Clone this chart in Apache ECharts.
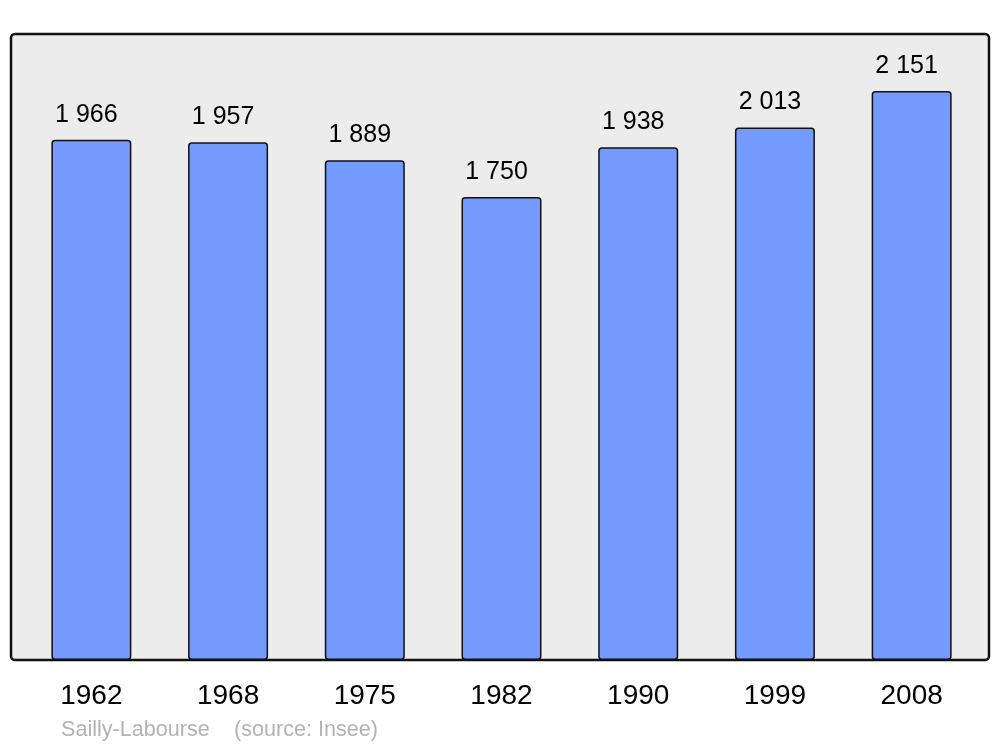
<!DOCTYPE html>
<html><head><meta charset="utf-8">
<script src="https://cdn.jsdelivr.net/npm/echarts@6/dist/echarts.min.js"></script>
<style>html,body{margin:0;padding:0;background:#fff}#c{width:1000px;height:747px}</style>
</head><body><div id="c"></div>
<script>
const years = ['1962','1968','1975','1982','1990','1999','2008'];
const population = [1966,1957,1889,1750,1938,2013,2151];
const captionPlace = 'Sailly-Labourse';
const captionSource = '(source: Insee)';

const fmt = v => String(v).replace(/\B(?=(\d{3})+(?!\d))/g, ' ');
const chart = echarts.init(document.getElementById('c'), null, {renderer:'canvas'});
const capFont = '21.6px "Liberation Sans", Arial, sans-serif';
chart.setOption({
  animation:false,
  backgroundColor:'#ffffff',
  textStyle:{fontFamily:'Liberation Sans, Arial, sans-serif'},
  graphic:[
    {type:'rect', z:-10, shape:{x:11,y:34,width:978,height:626,r:4},
     style:{fill:'#ececec', stroke:'#111', lineWidth:2.5}},
    {type:'text', x:61, y:730, style:{text:captionPlace, fill:'#b3b3b3', font:capFont, textVerticalAlign:'middle'}},
    {type:'text', x:234, y:730, style:{text:captionSource, fill:'#b3b3b3', font:capFont, textVerticalAlign:'middle'}}
  ],
  grid:{left:23, right:20, top:34, bottom:87},
  xAxis:{type:'category', data:years,
    axisLine:{show:false}, axisTick:{show:false},
    axisLabel:{color:'#000', fontSize:28, margin:22, fontFamily:'Liberation Sans, Arial, sans-serif'}},
  yAxis:{type:'value', min:0, max:2366, show:false, splitLine:{show:false}},
  series:[{type:'bar', data:population, barWidth:80,
    itemStyle:{color:'#7499ff', borderColor:'#111', borderWidth:1.5, borderRadius:3},
    label:{show:true, position:'top', distance:12.5, color:'#000', fontSize:25,
      fontFamily:'Liberation Sans, Arial, sans-serif', offset:[-5,0],
      formatter:p=>fmt(p.value)}
  }]
});
</script></body></html>
